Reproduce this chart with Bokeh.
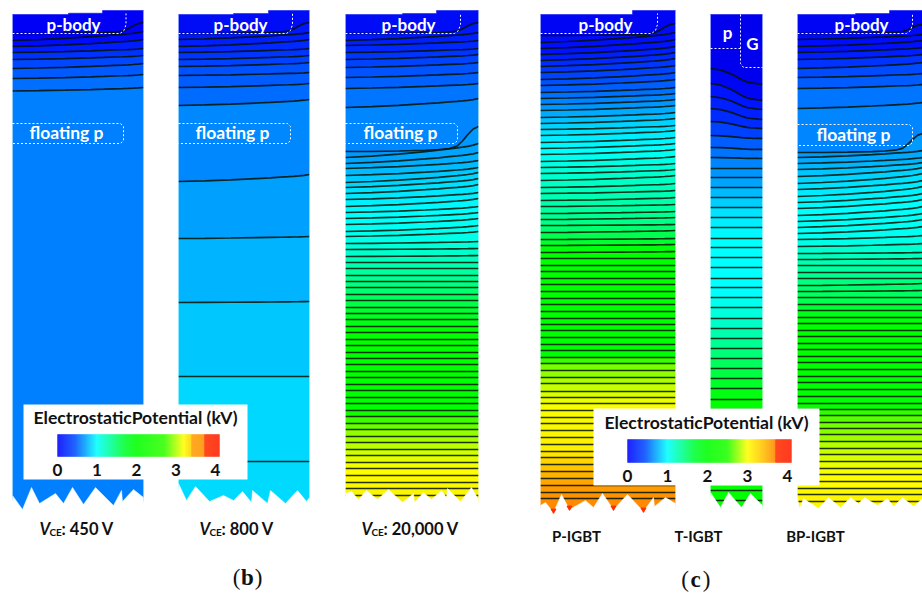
from bokeh.plotting import figure
from bokeh.embed import file_html
from bokeh.resources import INLINE
from bokeh.core.properties import value

# ---------- contour depths (left edge / right edge) ----------
P1_LEFT = [33, 40, 46, 52, 59, 68, 78, 90.5]
P1_RIGHT = [22, 31, 39, 48, 55, 63, 74, 87]
P2_LEFT = [33, 39, 46, 52, 59, 66, 75, 87, 105, 181, 238, 302, 376, 461]
P2_RIGHT = [22, 32, 39, 48, 55, 62, 72, 83, 99, 174, 236, 301, 376, 461]
P3_LEFT = [33, 40, 45, 52, 59, 67, 77, 88, 107, 151, 157, 163, 168, 175, 182, 187, 193, 199, 206, 212,
           218, 224, 231, 236, 243, 249, 256, 262, 268, 275, 281, 287, 294, 300, 307, 313, 319, 326, 332,
           339, 345, 352, 358, 364, 371, 377, 384, 390, 397, 403, 410, 416, 423, 429, 436, 442, 449, 455,
           462, 468, 475, 482, 488, 495]
P3_RIGHT_HEAD = [22, 32, 40, 48, 54, 62, 72, 83, 98, 126, 143, 152, 160, 167, 172, 178, 184, 192, 198, 206,
                 212, 218, 225, 231, 241, 248, 255]
P4_LEFT = [35, 42, 48, 54, 60, 66, 72, 79, 85, 92, 98, 104, 110, 117, 123, 129, 135, 142, 148, 154, 161, 167,
           173, 180, 187, 193, 200, 206, 213, 219, 225, 232, 239, 245, 252, 258, 265, 271, 278, 284, 291, 298,
           304, 311, 318, 324, 330, 337, 344, 350, 357, 363, 370, 377, 383, 391, 397, 403, 410, 417, 423, 430,
           437, 444, 451, 457, 464, 471, 478, 485, 492, 498]
P4_RIGHT_HEAD = [23, 32, 39, 46, 52, 58, 65, 72, 79, 87, 93, 99, 105, 112, 118, 125, 130, 137, 143, 149, 156,
                 163, 169, 175, 183, 190, 197, 204, 211, 217, 224, 230, 238, 244, 251]
P5_LEFT = [68, 83, 96, 108, 121, 135, 147, 157, 168, 177, 187, 197, 207, 217, 227, 238, 247, 257, 267, 278, 287,
           297, 307, 318, 328, 338, 348, 358, 368, 378, 388, 399, 409, 419, 429, 439, 449, 459, 469, 479, 490, 500]
P5_RIGHT_HEAD = [84, 100, 109, 119, 128, 138, 149, 158]
P6_LEFT = [33, 39, 46, 52, 59, 68, 77, 88, 108, 152, 157, 163, 169, 176, 183, 189, 196, 202, 208, 215, 221, 227,
           233, 239, 246, 253, 259, 265, 272, 278, 285, 291, 297, 304, 310, 317, 323, 330, 336, 343, 349, 356,
           362, 369, 376, 382, 389, 396, 403, 409, 415, 422, 428, 434, 441, 448, 454, 461, 468, 474, 481, 488,
           494, 501]
P6_RIGHT_HEAD = [24, 34, 40, 47, 54, 62, 73, 84, 102, 133, 150, 157, 162, 167, 173, 180, 186, 193, 199, 206, 213,
                 219, 226, 235, 243, 252, 258, 265, 272, 278, 283, 290]

# ---------- panel outlines ----------
P1_TOP = [(12, 14), (68, 14), (68, 12.7), (102, 12.7), (102, 10), (143, 10)]
P2_TOP = [(178, 14), (233, 14), (233, 13), (268, 13), (268, 10), (309, 10)]
P3_TOP = [(345, 14), (402, 14), (402, 13), (436, 13), (436, 10), (478, 10)]
P4_TOP = [(540, 14), (632, 14), (632, 10), (675, 10)]
P5_TOP = [(710, 14), (762, 14)]
P6_TOP = [(797, 14), (855, 14), (855, 13), (889, 13), (889, 10), (922, 10)]

P1_JAG = [(12, 495), (22, 509), (31, 487), (39, 503), (55, 493), (63, 503), (72, 487), (83, 504), (95, 487),
          (113, 505), (121, 490), (122, 501), (133, 489), (143, 497)]
P2_JAG = [(178, 483), (186, 500), (195, 486), (209, 501), (223, 495), (233, 500), (242, 491), (251, 502), (252, 490),
          (267, 503), (270, 490), (285, 503), (297, 490), (306, 501), (309, 497)]
P3_JAG = [(345, 493), (351, 491), (358, 499), (366, 490), (377, 499), (388, 489), (402, 502), (413, 493), (414, 502),
          (423, 492), (431, 499), (441, 490), (446, 497), (447, 488), (460, 501), (471, 487), (478, 499)]
P4_JAG = [(540, 505), (545, 502), (553, 512), (561, 494), (569, 509), (585, 500), (593, 507), (602, 493), (613, 509),
          (627, 494), (643, 511), (653, 497), (654, 506), (665, 497), (675, 503)]
P5_JAG = [(710, 492), (720, 507), (728, 492), (741, 507), (750, 493), (762, 505)]
P6_JAG = [(797, 497), (799, 508), (803, 498), (818, 508), (828, 497), (840, 507), (850, 497), (858, 503), (864, 497),
          (877, 505), (887, 498), (893, 506), (902, 497), (913, 506), (922, 498)]
P4_TIPS_X = [553, 569, 613, 643]
P4_TIPS_Y = [510, 507, 507, 509]

# ---------- band colours sampled by depth ----------
P1_COL = [(10, "#0000ee"), (40, "#0000ff"), (60, "#0040ff"), (80, "#0068ff"), (95, "#0080ff"), (520, "#0080ff")]
P2_COL = [(10, "#0000ee"), (45, "#0020ff"), (70, "#0050ff"), (100, "#0070ff"), (150, "#008cff"), (210, "#00a0ff"),
          (270, "#00b4ff"), (340, "#00c8ff"), (420, "#00d8ff"), (520, "#00dcff")]
P3_COL = [(10, "#0000ee"), (45, "#0020ff"), (70, "#0050ff"), (100, "#0078ff"), (150, "#0090ff"), (170, "#00b8ff"),
          (190, "#00e0ff"), (215, "#00ffff"), (240, "#00ffe8"), (265, "#00ffb0"), (290, "#00ff70"), (310, "#00ff30"),
          (330, "#00ff00"), (410, "#00ff00"), (420, "#40ff00"), (432, "#90ff00"), (447, "#c0ff00"), (468, "#ffff00"),
          (520, "#f8e800")]
P4_COL = [(10, "#0000ee"), (50, "#0010ff"), (90, "#0060ff"), (110, "#00a0ff"), (130, "#00e0ff"), (150, "#00ffff"),
          (175, "#00ffd0"), (200, "#00ffb0"), (225, "#00ff80"), (245, "#00ff20"), (250, "#00ff00"), (355, "#00ff00"),
          (365, "#70ff00"), (385, "#c0ff00"), (405, "#f8ff00"), (450, "#ffee00"), (475, "#ffb000"), (500, "#ff8800"),
          (520, "#ff8000")]
P5_COL = [(10, "#0000ee"), (70, "#0000ee"), (85, "#0010ff"), (120, "#0030ff"), (150, "#0070ff"), (180, "#00a0ff"),
          (195, "#00c0ff"), (215, "#00e8ff"), (240, "#00ffff"), (290, "#00ffff"), (320, "#00ffd0"), (350, "#00ff80"),
          (380, "#00ff30"), (400, "#00ff00"), (520, "#00ff00")]
P6_COL = [(10, "#0000ee"), (50, "#0010ff"), (75, "#0050ff"), (100, "#0078ff"), (150, "#0090ff"), (170, "#00c0ff"),
          (190, "#00e8ff"), (210, "#00ffff"), (240, "#00fff0"), (252, "#00ffc8"), (275, "#00ff90"), (300, "#00ff50"),
          (315, "#00ff10"), (325, "#00ff00"), (405, "#00ff00"), (420, "#60ff00"), (440, "#a8ff00"), (460, "#e0ff00"),
          (475, "#ffff00"), (520, "#ffee00")]

PANELS = [
    (P1_LEFT, P1_RIGHT, P1_TOP, P1_JAG, P1_COL, {0}, "flat"),
    (P2_LEFT, P2_RIGHT, P2_TOP, P2_JAG, P2_COL, {0}, "flat"),
    (P3_LEFT, P3_RIGHT_HEAD + P3_LEFT[len(P3_RIGHT_HEAD):], P3_TOP, P3_JAG, P3_COL, {0, 9}, "flat"),
    (P4_LEFT, P4_RIGHT_HEAD + P4_LEFT[len(P4_RIGHT_HEAD):], P4_TOP, P4_JAG, P4_COL, {0}, "flat"),
    (P5_LEFT, P5_RIGHT_HEAD + P5_LEFT[len(P5_RIGHT_HEAD):], P5_TOP, P5_JAG, P5_COL, set(), "mid"),
    (P6_LEFT, P6_RIGHT_HEAD + P6_LEFT[len(P6_RIGHT_HEAD):], P6_TOP, P6_JAG, P6_COL, {0, 9}, "flat"),
]

KNOTS = [0, .2, .4, .6, .7, .78, .84, .88, .92, .96, 1]
SHAPES = {
    "flat": [0, .10, .24, .42, .52, .62, .69, .74, .80, .88, 1],
    "bend": [0, 0, .02, .05, .08, .12, .22, .42, .68, .90, 1],
    "mid":  [0, .10, .35, .70, .85, .90, .93, .95, .97, .98, 1],
}

CB_LEGEND1 = [(0, "#0000ff"), (.45, "#0050ff"), (1, "#00ffff"), (1.7, "#00ff30"), (2, "#00ff00"), (2.7, "#30ff00"),
              (3.2, "#ffff00"), (3.39, "#ffd000"), (3.4, "#ffa000"), (3.71, "#ff9000"), (3.72, "#ff3000"),
              (4.1, "#ff2000")]
CB_LEGEND2 = [(0, "#0000ff"), (.45, "#0050ff"), (1, "#00ffff"), (1.7, "#00ff30"), (2, "#00ff00"), (2.5, "#20ff00"),
              (3.0, "#ffff00"), (3.4, "#ffc000"), (3.69, "#ff8800"), (3.7, "#ff3000"), (4.1, "#ff2000")]
TICKS = ["0", "1", "2", "3", "4"]
LEGEND_TITLE = "ElectrostaticPotential (kV)"


def rgb(h):
    return tuple(int(h[i:i + 2], 16) for i in (1, 3, 5))


def lookup(stops, v):
    if v <= stops[0][0]:
        return stops[0][1]
    for (a, ca), (b, cb) in zip(stops, stops[1:]):
        if v <= b:
            t = (v - a) / (b - a) if b > a else 0
            ra, rb = rgb(ca), rgb(cb)
            return "#%02x%02x%02x" % tuple(round(x + (y - x) * t) for x, y in zip(ra, rb))
    return stops[-1][1]


p = figure(width=922, height=595, x_range=(0, 922), y_range=(595, 0), output_backend="svg",
           toolbar_location=None, min_border=0, outline_line_color=None, background_fill_color="white")
p.axis.visible = False
p.grid.visible = False

band_x, band_y, band_c, line_x, line_y, mask_x, mask_y, edge_x, edge_y = [], [], [], [], [], [], [], [], []
for left, right, top, jag, col, bends, shape in PANELS:
    x0, x1 = top[0][0], top[-1][0]
    xs = [x0 + (x1 - x0) * k for k in KNOTS]
    lines = []
    for i, (a, b) in enumerate(zip(left, right)):
        s = SHAPES["bend" if i in bends else shape]
        lines.append([a + (b - a) * t for t in s])
        line_x.append(xs)
        line_y.append(lines[-1])
    band_x.append([q[0] for q in top] + xs[::-1])
    band_y.append([q[1] for q in top] + lines[0][::-1])
    band_c.append(lookup(col, (top[0][1] + left[0]) / 2))
    for i in range(len(lines) - 1):
        band_x.append(xs + xs[::-1])
        band_y.append(lines[i] + lines[i + 1][::-1])
        band_c.append(lookup(col, (left[i] + left[i + 1]) / 2))
    band_x.append(xs + [x1, x0])
    band_y.append(lines[-1] + [520, 520])
    band_c.append(lookup(col, (left[-1] + 500) / 2))
    mask_x.append([q[0] for q in jag] + [x1 + 2, x0 - 2])
    mask_y.append([q[1] for q in jag] + [522, 522])
    edge_x += [[x0, x0], [x1, x1]]
    edge_y += [[top[0][1], jag[0][1]], [top[-1][1], jag[-1][1]]]

p.patches(band_x, band_y, fill_color=band_c, line_color=band_c, line_width=0.5)
p.multi_line(line_x, line_y, line_color="#001000", line_alpha=0.85, line_width=1.7)
p.multi_line(edge_x, edge_y, line_color="#e8ffff", line_alpha=0.45, line_width=1)
p.patches(mask_x, mask_y, fill_color="white", line_color="white", line_width=0.5)
p.scatter(P4_TIPS_X, P4_TIPS_Y, marker="inverted_triangle", size=5, color="#ff3000")

# dotted region boundaries
PBODY_LEFT = [12, 178, 345, 540, 797]
PBODY_END = [125.5, 292, 460, 657, 912]
dot_x, dot_y = [], []
for xa, xb in zip(PBODY_LEFT, PBODY_END):
    dot_x.append([xa, xb - 6, xb - 2, xb, xb])
    dot_y.append([33, 33, 30, 24, 13])
FLOAT_LEFT = [12, 178, 345, 797]
FLOAT_END = [123, 290, 457, 912]
FLOAT_TOP = [123, 123, 123, 124]
FLOAT_BOT = [143, 143, 143, 145]
for xa, xb, ya, yb in zip(FLOAT_LEFT, FLOAT_END, FLOAT_TOP, FLOAT_BOT):
    dot_x.append([xa, xb - 3, xb, xb, xb - 3, xa])
    dot_y.append([ya, ya, ya + 3, yb - 3, yb, yb])
dot_x += [[710, 740], [740, 740, 743, 762]]
dot_y += [[48, 48], [14, 63, 67, 67]]
p.multi_line(dot_x, dot_y, line_color="white", line_width=1, line_dash="2 2")

FONT = value("Lato")


def label(texts, xs, ys, size, color="#111111", style="bold", align="center", font=FONT):
    p.text(xs, ys, text=texts, text_font=font, text_font_size=size, text_font_style=style,
           text_color=color, text_align=align, text_baseline="middle")


label(["p-body"] * 5, [73, 240, 408, 605, 861], [24] * 5, "17px", "white")
label(["floating p"] * 4, [66, 232, 400, 853], [132, 132, 132, 134], "17.5px", "white")
label(["p", "G"], [727, 752], [32, 43], "17px", "white")

# legends
LEG1 = dict(box=(23, 247, 404, 479), bar=(57, 219, 434, 456), tick0=57, tick4=215, ty=469, ttl=(135, 417), stops=CB_LEGEND1)
LEG2 = dict(box=(593, 819, 408, 485), bar=(627, 791, 439, 462), tick0=627, tick4=787, ty=475, ttl=(706, 422), stops=CB_LEGEND2)
for L in (LEG1, LEG2):
    bx0, bx1, by0, by1 = L["box"]
    p.quad(left=[bx0], right=[bx1], top=[by0], bottom=[by1], fill_color="white", line_color=None)
    cx0, cx1, cy0, cy1 = L["bar"]
    scale = (L["tick4"] - L["tick0"]) / 4
    edges = list(range(cx0, cx1 + 1))
    cols = [lookup(L["stops"], (e + .5 - L["tick0"]) / scale) for e in edges[:-1]]
    p.quad(left=edges[:-1], right=edges[1:], top=[cy0] * len(cols), bottom=[cy1] * len(cols),
           fill_color=cols, line_color=cols, line_width=0.3)
    label(TICKS, [L["tick0"] + i * scale for i in range(5)], [L["ty"]] * 5, "17px")
    label([LEGEND_TITLE], [L["ttl"][0]], [L["ttl"][1]], "17.6px")

# captions
VCE_X = [39, 199, 361]
VCE_TEXT = [": 450 V", ": 800 V", ": 20,000 V"]
VCE_Y = 528
label(["V"] * 3, VCE_X, [VCE_Y] * 3, "16.5px", style="bold italic", align="left")
label(["CE"] * 3, [x + 10 for x in VCE_X], [VCE_Y + 3] * 3, "10px", align="left")
label(VCE_TEXT, [x + 22 for x in VCE_X], [VCE_Y] * 3, "16.5px", align="left")
label(["P-IGBT", "T-IGBT", "BP-IGBT"], [576, 698, 815], [535] * 3, "15px")

SERIF = value("Liberation Serif")
label(["(", ")"], [236, 258], [577, 577], "23px", style="normal", font=SERIF)
label(["b"], [247], [577], "23px", style="bold", font=SERIF)
label(["(", ")"], [684.5, 706], [579, 579], "23px", style="normal", font=SERIF)
label(["c"], [695], [579], "23px", style="bold", font=SERIF)

open("out.html", "w").write(file_html(p, INLINE))
